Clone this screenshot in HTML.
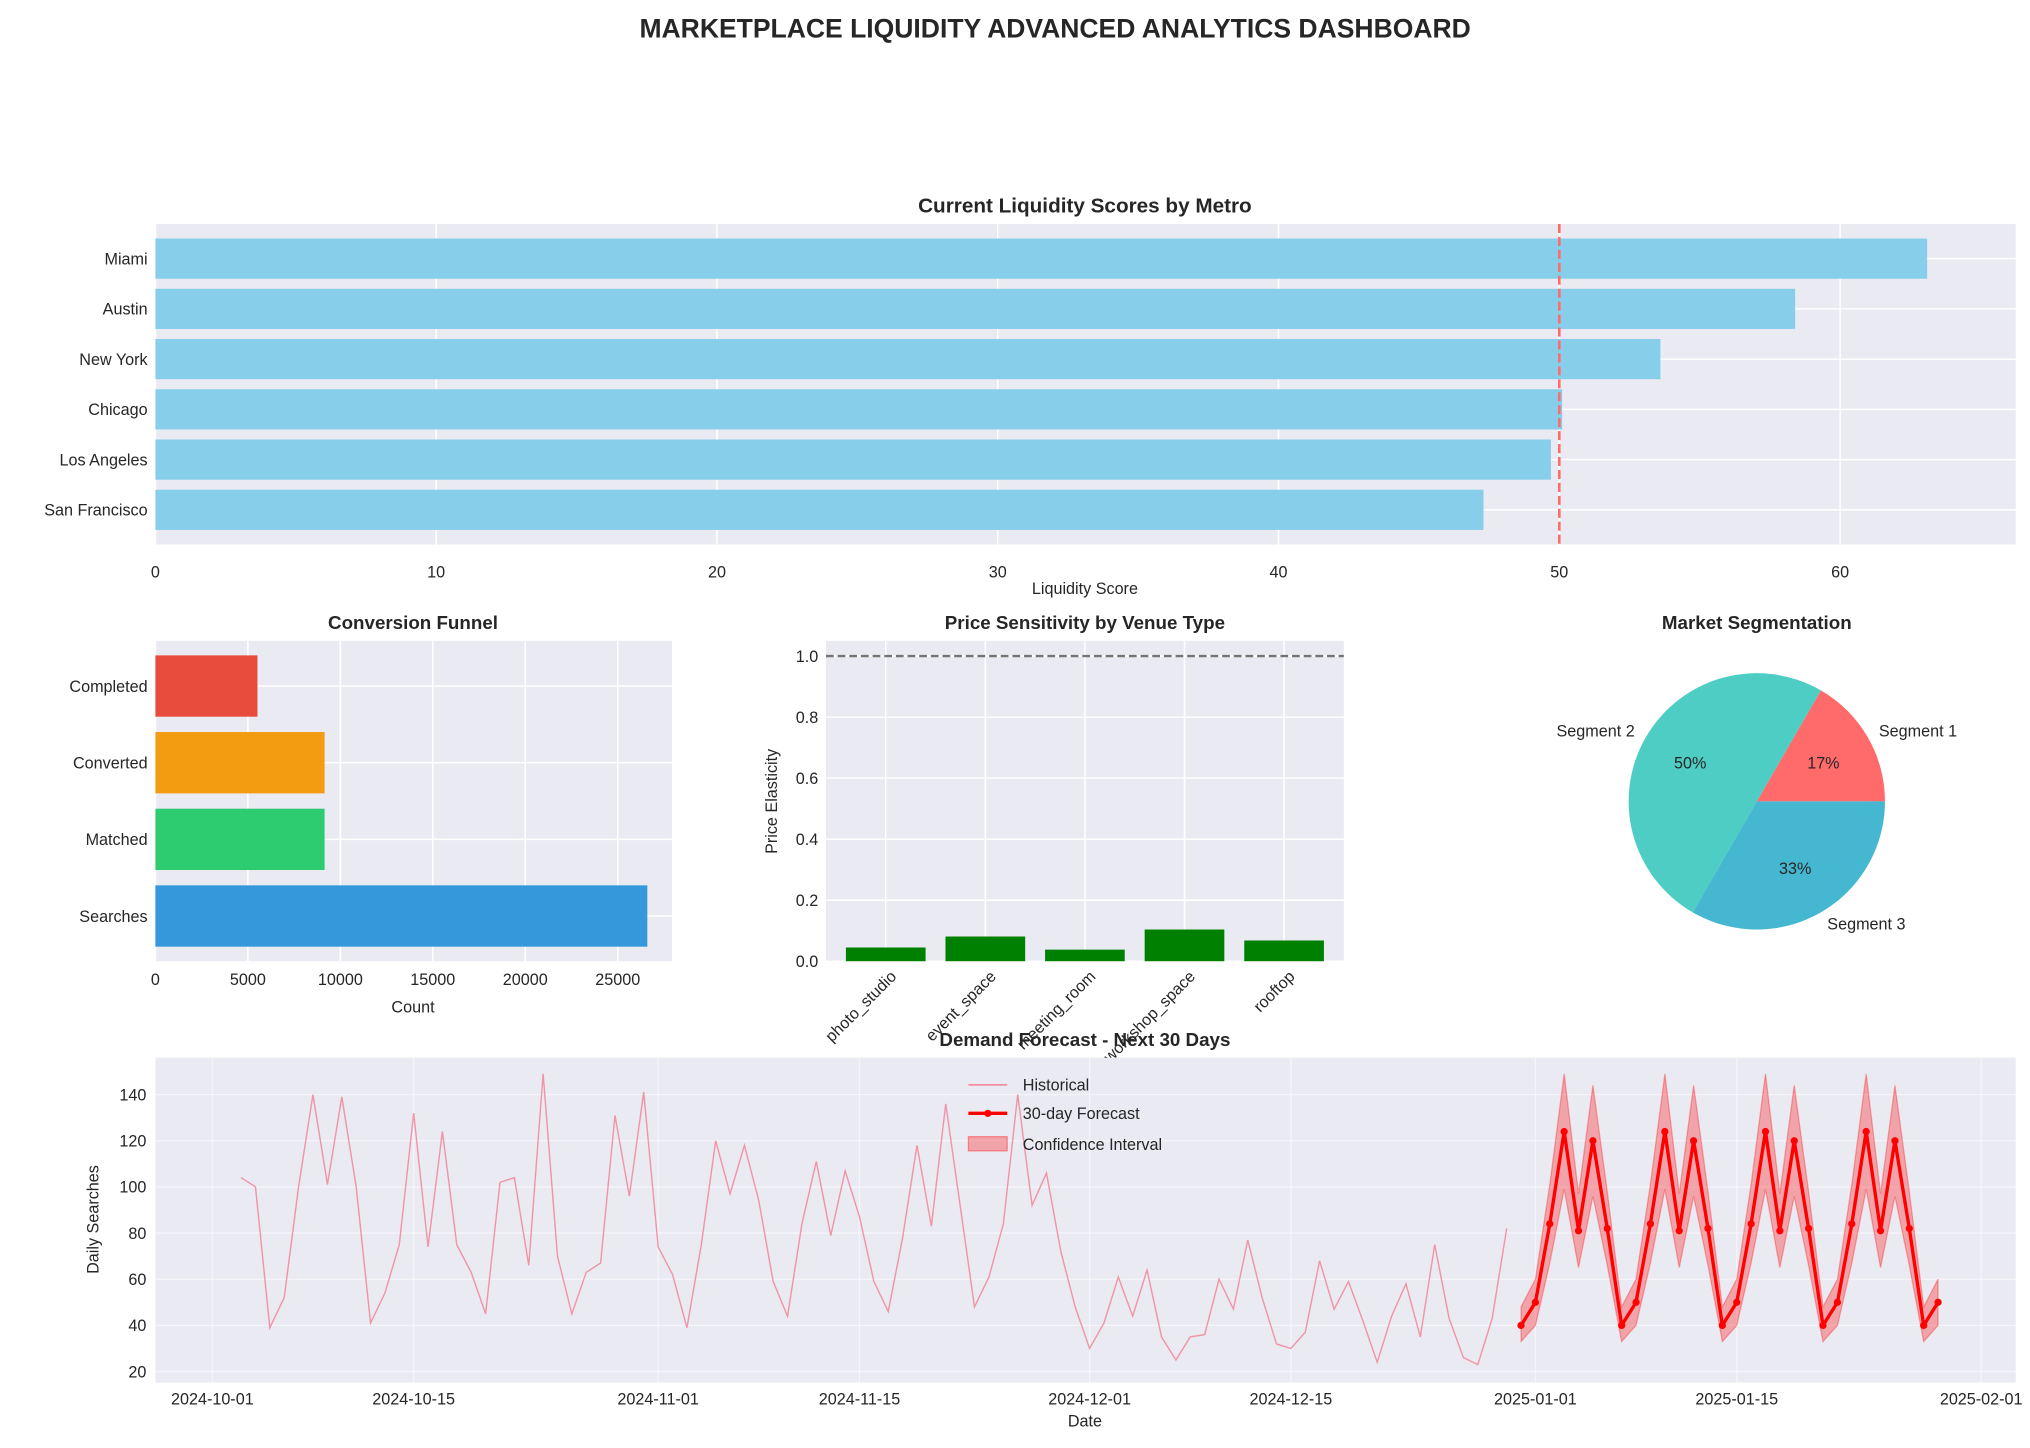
<!DOCTYPE html>
<html><head><meta charset="utf-8"><style>
html,body{margin:0;padding:0;background:#fff;}
svg{display:block;font-family:"Liberation Sans",Arial,sans-serif;}
</style></head><body>
<svg id="root" width="2030" height="1448" viewBox="0 0 1568 1118.5" xmlns="http://www.w3.org/2000/svg">
<text x="815" y="29" text-anchor="middle" font-size="20.5" font-weight="bold" fill="#262626">MARKETPLACE LIQUIDITY ADVANCED ANALYTICS DASHBOARD</text>
</svg>
<script>
// ---- data ----
const metros = ["San Francisco","Los Angeles","Chicago","New York","Austin","Miami"];
const liquidity = [47.3,49.7,50.1,53.6,58.4,63.1];
const liqTicks = [0,10,20,30,40,50,60];
const liqThreshold = 50;
const funnelStages = ["Searches","Matched","Converted","Completed"];
const funnelCounts = [26600,9150,9150,5520];
const funnelColors = ["#3498db","#2ecc71","#f39c12","#e74c3c"];
const funnelTicks = [0,5000,10000,15000,20000,25000];
const venues = ["photo_studio","event_space","meeting_room","workshop_space","rooftop"];
const elasticity = [0.045,0.081,0.038,0.104,0.068];
const elasticTicks = [0,0.2,0.4,0.6,0.8,1.0];
const segments = ["Segment 1","Segment 2","Segment 3"];
const segShares = [1,3,2];
const segColors = ["#FF6B6B","#4ECDC4","#45B7D1"];
const histStart = "2024-10-03";
const histValues = [104,100,39,52,100,140,101,139,100,41,54,75,132,74,124,75,63,45,102,104,66,149,70,45,63,67,131,96,141,74,
62,39,75,120,97,118,94,59,44,84,111,79,107,87,59,46,78,118,83,136,92,48,61,84,140,92,106,72,48,30,
41,61,44,64,35,25,35,36,60,47,77,52,32,30,37,68,47,59,42,24,44,58,35,75,43,26,23,43,82];
const fcStart = "2024-12-31";
const fcValues = [40,50,84,124,81,120,82,40,50,84,124,81,120,82,40,50,84,124,81,120,82,40,50,84,124,81,120,82,40,50];
const fcLower = [33,40,67,99,65,96,66,33,40,67,99,65,96,66,33,40,67,99,65,96,66,33,40,67,99,65,96,66,33,40];
const fcUpper = [48,60,101,149,97,144,98,48,60,101,149,97,144,98,48,60,101,149,97,144,98,48,60,101,149,97,144,98,48,60];
const demandTicks = [20,40,60,80,100,120,140];
const dateTicks = ["2024-10-01","2024-10-15","2024-11-01","2024-11-15","2024-12-01","2024-12-15","2025-01-01","2025-01-15","2025-02-01"];

const NS="http://www.w3.org/2000/svg";
const root=document.getElementById('root');
const BG="#EAEAF2", TXT="#262626", FS=12.5;
function mk(tag,attrs,parent){const e=document.createElementNS(NS,tag);for(const k in attrs)e.setAttribute(k,attrs[k]);(parent||root).appendChild(e);return e;}
function txt(s,attrs,parent){const e=mk('text',attrs,parent);e.textContent=s;return e;}

// ===== Chart 1: liquidity =====
{
const L=120,R=1557,T=173,B=420.6;
const g=mk('g',{});


const bgR=mk('rect',{x:L,y:T,width:R-L,height:B-T,fill:BG},g);


const xmax=Math.max(...liquidity)*1.05;
const xs=v=>L+v/xmax*(R-L);
const n=metros.length, y0=-0.69, y1=n-1+0.69;
const ys=i=>B-(i-y0)/(y1-y0)*(B-T);
const band=(B-T)/(y1-y0);
liqTicks.forEach(t=>{
 const l=mk('line',{x1:xs(t),x2:xs(t),y1:T,y2:B,stroke:'#fff','stroke-width':1.2},g);
 
 
 const tl=txt(String(t),{x:xs(t),y:446,'text-anchor':'middle','font-size':FS,fill:TXT},g);
 
 
});
metros.forEach((m,i)=>{
 const gl=mk('line',{x1:L,x2:R,y1:ys(i),y2:ys(i),stroke:'#fff','stroke-width':1.2},g);
 
 
});
metros.forEach((m,i)=>{
 const b=mk('rect',{x:L,y:ys(i)-band*0.4,width:xs(liquidity[i])-L,height:band*0.8,fill:'#87CEEB'},g);
 
 
 const tl=txt(m,{x:114,y:ys(i)+4.5,'text-anchor':'end','font-size':FS,fill:TXT},g);
 
 
});
const th=mk('line',{x1:xs(liqThreshold),x2:xs(liqThreshold),y1:T,y2:B,stroke:'#FF6B6B','stroke-width':2,'stroke-dasharray':'7,3'},g);


const t1=txt('Current Liquidity Scores by Metro',{x:838,y:164,'text-anchor':'middle','font-size':16,'font-weight':'bold',fill:TXT},g);


const xl=txt('Liquidity Score',{x:838,y:459,'text-anchor':'middle','font-size':FS,fill:TXT},g);


}

// ===== Chart 2: funnel =====
{
const L=120,R=519,T=495,B=742.5;
const g=mk('g',{});


const bgR=mk('rect',{x:L,y:T,width:R-L,height:B-T,fill:BG},g);


const xmax=Math.max(...funnelCounts)*1.05;
const xs=v=>L+v/xmax*(R-L);
const n=funnelStages.length,y0=-0.59,y1=n-1+0.59;
const ys=i=>B-(i-y0)/(y1-y0)*(B-T);
const band=(B-T)/(y1-y0);
funnelTicks.forEach(t=>{
 const l=mk('line',{x1:xs(t),x2:xs(t),y1:T,y2:B,stroke:'#fff','stroke-width':1.2},g);
 
 
 const tl=txt(String(t),{x:xs(t),y:761,'text-anchor':'middle','font-size':FS,fill:TXT},g);
 
 
});
funnelStages.forEach((s,i)=>{
 const gl=mk('line',{x1:L,x2:R,y1:ys(i),y2:ys(i),stroke:'#fff','stroke-width':1.2},g);
 
 
});
funnelStages.forEach((s,i)=>{
 const b=mk('rect',{x:L,y:ys(i)-band*0.4,width:xs(funnelCounts[i])-L,height:band*0.8,fill:funnelColors[i]},g);
 
 
 const tl=txt(s,{x:114,y:ys(i)+4.5,'text-anchor':'end','font-size':FS,fill:TXT},g);
 
 
});
const t1=txt('Conversion Funnel',{x:319,y:486,'text-anchor':'middle','font-size':14.5,'font-weight':'bold',fill:TXT},g);


const xl=txt('Count',{x:319,y:782,'text-anchor':'middle','font-size':FS,fill:TXT},g);


}

// ===== Chart 3: price sensitivity =====
{
const L=638,R=1038,T=495,B=742.5;
const g=mk('g',{});


const bgR=mk('rect',{x:L,y:T,width:R-L,height:B-T,fill:BG},g);


const ymax=1.05;
const ys=v=>B-v/ymax*(B-T);
const n=venues.length,x0=-0.6,x1=n-1+0.6;
const xs=i=>L+(i-x0)/(x1-x0)*(R-L);
const band=(R-L)/(x1-x0);
elasticTicks.forEach(t=>{
 const l=mk('line',{x1:L,x2:R,y1:ys(t),y2:ys(t),stroke:'#fff','stroke-width':1.2},g);
 
 
 const tl=txt(t.toFixed(1),{x:632,y:ys(t)+4.5,'text-anchor':'end','font-size':FS,fill:TXT},g);
 
 
});
venues.forEach((v,i)=>{
 const gl=mk('line',{x1:xs(i),x2:xs(i),y1:T,y2:B,stroke:'#fff','stroke-width':1.2},g);
 
 
});
venues.forEach((v,i)=>{
 const b=mk('rect',{x:xs(i)-band*0.4,y:ys(elasticity[i]),width:band*0.8,height:B-ys(elasticity[i]),fill:'#008000'},g);
 
 
 const tx=xs(i)+9, ty=755;
 const tl=txt(v,{x:tx,y:ty,'text-anchor':'end','font-size':FS,fill:TXT,transform:`rotate(-45 ${tx} ${ty})`},g);
 
 
});
const ref=mk('line',{x1:L,x2:R,y1:ys(1),y2:ys(1),stroke:'#666','stroke-width':1.8,'stroke-dasharray':'6,3','stroke-opacity':0.9},g);


const t1=txt('Price Sensitivity by Venue Type',{x:838,y:486,'text-anchor':'middle','font-size':14.5,'font-weight':'bold',fill:TXT},g);


const yl=txt('Price Elasticity',{x:600,y:619,'text-anchor':'middle','font-size':FS,fill:TXT,transform:'rotate(-90 600 619)'},g);


}

// ===== Chart 4: pie =====
{
const cx=1357,cy=619,r=99;
const g=mk('g',{});


const tot=segShares.reduce((a,b)=>a+b,0);
let a0=0;
segShares.forEach((s,i)=>{
 const frac=s/tot, a1=a0+frac*2*Math.PI;
 const p0=[cx+r*Math.cos(a0),cy-r*Math.sin(a0)], p1=[cx+r*Math.cos(a1),cy-r*Math.sin(a1)];
 const large=frac>0.5?1:0;
 const p=mk('path',{d:`M${cx},${cy} L${p0[0]},${p0[1]} A${r},${r} 0 ${large} 0 ${p1[0]},${p1[1]} Z`,fill:segColors[i]},g);
 
 
 const am=(a0+a1)/2, c=Math.cos(am), sn=Math.sin(am);
 const lx=cx+1.1*r*c, ly=cy-1.1*r*sn;
 const lab=txt(segments[i],{x:lx,y:ly+4.5,'text-anchor':c>=0?'start':'end','font-size':FS,fill:TXT},g);
 
 
 const pc=txt(Math.round(frac*100)+'%',{x:cx+0.6*r*c,y:cy-0.6*r*sn+4.5,'text-anchor':'middle','font-size':FS,fill:TXT},g);
 
 
 a0=a1;
});
const t1=txt('Market Segmentation',{x:1357,y:486,'text-anchor':'middle','font-size':14.5,'font-weight':'bold',fill:TXT},g);


}

// ===== Chart 5: demand forecast =====
{
const L=120,R=1557,T=817,B=1068;
const g=mk('g',{});


const bgR=mk('rect',{x:L,y:T,width:R-L,height:B-T,fill:BG},g);


const DAY=86400000, base=Date.parse("2024-10-01T00:00:00Z");
const dnum=s=>(Date.parse(s+"T00:00:00Z")-base)/DAY;
const d0=-3.96,d1=125.4;
const xs=d=>L+(d-d0)/(d1-d0)*(R-L);
const v0=15.2,v1=156;
const ys=v=>B-(v-v0)/(v1-v0)*(B-T);
demandTicks.forEach(t=>{
 const l=mk('line',{x1:L,x2:R,y1:ys(t),y2:ys(t),stroke:'#fff','stroke-width':1,'stroke-opacity':0.5},g);
 
 
 const tl=txt(String(t),{x:113,y:ys(t)+4.5,'text-anchor':'end','font-size':FS,fill:TXT},g);
 
 
});
dateTicks.forEach(s=>{
 const x=xs(dnum(s));
 const l=mk('line',{x1:x,x2:x,y1:T,y2:B,stroke:'#fff','stroke-width':1,'stroke-opacity':0.5},g);
 
 
 const tl=txt(s,{x:x,y:1085,'text-anchor':'middle','font-size':FS,fill:TXT},g);
 
 
});
const hs=dnum(histStart);
const hp=histValues.map((v,i)=>`${xs(hs+i).toFixed(1)},${ys(v).toFixed(1)}`).join(' ');
const hl=mk('polyline',{points:hp,fill:'none',stroke:'#f37e92','stroke-width':1.1,'stroke-opacity':0.8},g);


const fs=dnum(fcStart);
const up=fcUpper.map((v,i)=>`${xs(fs+i).toFixed(1)},${ys(v).toFixed(1)}`);
const lo=fcLower.map((v,i)=>`${xs(fs+i).toFixed(1)},${ys(v).toFixed(1)}`).reverse();
const ci=mk('polygon',{points:up.concat(lo).join(' '),fill:'#ff0000','fill-opacity':0.3,stroke:'#ff0000','stroke-opacity':0.3},g);


const fp=fcValues.map((v,i)=>`${xs(fs+i).toFixed(1)},${ys(v).toFixed(1)}`).join(' ');
const fl=mk('polyline',{points:fp,fill:'none',stroke:'#ff0000','stroke-width':2.6,'stroke-linejoin':'round'},g);


fcValues.forEach((v,i)=>{
 const c=mk('circle',{cx:xs(fs+i),cy:ys(v),r:2.8,fill:'#ff0000'},g);
 
 
});
const t1=txt('Demand Forecast - Next 30 Days',{x:838,y:808,'text-anchor':'middle','font-size':14.5,'font-weight':'bold',fill:TXT},g);


const xl=txt('Date',{x:838,y:1102,'text-anchor':'middle','font-size':FS,fill:TXT},g);


const yl=txt('Daily Searches',{x:76,y:942,'text-anchor':'middle','font-size':FS,fill:TXT,transform:'rotate(-90 76 942)'},g);


// legend
const lg=mk('g',{},g);


const e1=mk('line',{x1:748,x2:778,y1:838,y2:838,stroke:'#f37e92','stroke-width':1.1},lg);


const l1=txt('Historical',{x:790,y:842.5,'font-size':FS,fill:TXT},lg);


const e2=mk('line',{x1:748,x2:778,y1:860,y2:860,stroke:'#ff0000','stroke-width':2.6},lg);


const e2c=mk('circle',{cx:763,cy:860,r:2.8,fill:'#ff0000'},lg);


const l2=txt('30-day Forecast',{x:790,y:864.5,'font-size':FS,fill:TXT},lg);


const e3=mk('rect',{x:748,y:878,width:30,height:11,fill:'#ff0000','fill-opacity':0.3,stroke:'#ff0000','stroke-opacity':0.35},lg);


const l3=txt('Confidence Interval',{x:790,y:888.5,'font-size':FS,fill:TXT},lg);


}
</script>
</body></html>
